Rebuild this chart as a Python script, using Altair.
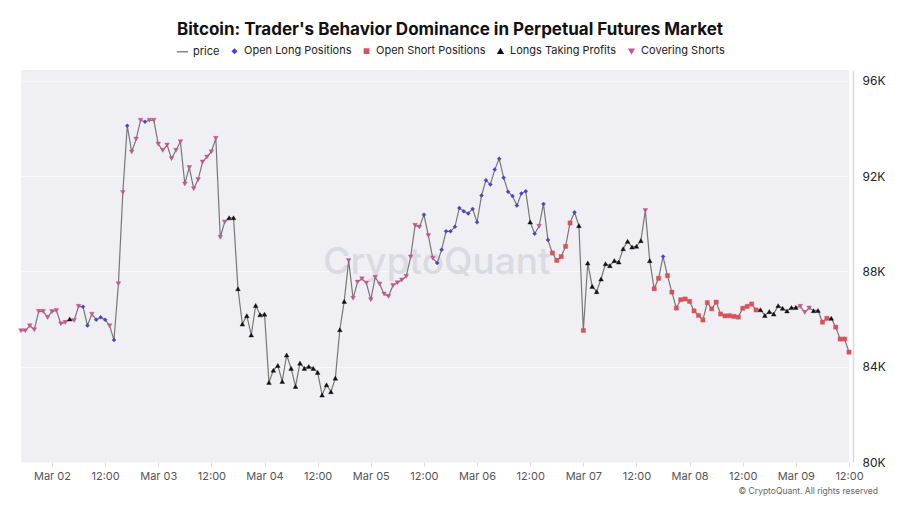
import altair as alt
import pandas as pd

# hourly closes, Mar 01 17:00 UTC -> Mar 09 12:00 UTC
prices_a = [85510, 85510, 85720, 85550, 86320, 86320, 86070, 86310, 86360, 85800,
            85860, 86000, 85940, 86530, 86520, 85730, 86200, 85970, 86070, 85970,
            85720, 85120, 87480, 91310, 94110, 93010, 93550, 94340, 94280, 94340,
            94340, 93340, 93080]
behav_a = list("VVVVVVVVVVVKVVBBVBBBVBVVBVVVBVVVV")

prices_b = [93300, 92730, 93080, 93440, 91670, 92360, 91470, 91850, 92590, 92800,
            93020, 93580, 89430, 90070, 90250, 90250, 87270, 85790, 86140, 85330,
            86570, 86180, 86200, 83340, 83850, 84050, 83380, 84490, 83930, 83170,
            84150, 83930, 84010]
behav_b = list("VVVVVVVVVVVVVV" + "KKKKKKKKKKKKKKKKKKK")

prices_c = [83930, 83760, 82810, 83240, 82950, 83520, 85550, 86740, 88450, 86870,
            87550, 87690, 87510, 86810, 87750, 87470, 87050, 86950, 87410, 87520,
            87640, 87790, 88600, 89930, 89860, 90380, 89500, 88550, 88350, 88910,
            89680, 89680]
behav_c = list("KKKKKKKK" + "VVVVVVVVVVVVVVVVV" + "BVVBBBB")

prices_d = [89870, 90660, 90520, 90430, 90620, 90060, 91180, 91820, 91650, 92270,
            92730, 91930, 91340, 91160, 90760, 91270, 91360, 90070, 89580, 89890,
            90830, 89320, 88770, 88460, 88620, 89050, 90030, 90480, 89920, 85520,
            88350]
behav_d = list("BBBBBBBBBBBBBBBBB" + "KBVBB" + "RRRRR" + "BKRK")

prices_e = [87370, 87150, 87680, 88320, 88240, 88450, 88390, 88950, 89260, 89020,
            89050, 89290, 90550, 88450, 87270, 87710, 88620, 87820, 87130, 86460,
            86810, 86840, 86740, 86340, 86150, 85960, 86690, 86430, 86710, 86210,
            86130, 86140]
behav_e = list("KKKKKKKKKKKK" + "VKRRB" + "RRRRRRRRRRRRRRR")

prices_f = [86110, 86080, 86450, 86530, 86630, 86380, 86390, 86150, 86310, 86210,
            86560, 86450, 86340, 86480, 86490, 86530, 86280, 86460, 86350, 86360,
            85870, 86030, 86030, 85660, 85160, 85160, 84610]
behav_f = list("RRRRRR" + "KKKKKKKKK" + "VVV" + "KK" + "RRK" + "RRRR")

series_names = ["price", "Open Long Positions", "Open Short Positions",
                "Longs Taking Profits", "Covering Shorts"]
code_names = {"B": "Open Long Positions", "R": "Open Short Positions",
              "K": "Longs Taking Profits", "V": "Covering Shorts"}
series_colors = ["#858585", "#4a3fcf", "#d9525b", "#111111", "#c6568b"]
series_shapes = ["stroke", "diamond", "square", "triangle-up", "triangle-down"]
series_sizes = [130, 16, 18, 22, 22]

y_ticks = [80000, 84000, 88000, 92000, 96000]

prices = prices_a + prices_b + prices_c + prices_d + prices_e + prices_f
codes = behav_a + behav_b + behav_c + behav_d + behav_e + behav_f

times = pd.date_range("2025-03-01 17:00", periods=len(prices), freq="h", tz="UTC")
df = pd.DataFrame({
    "t": times.strftime("%Y-%m-%dT%H:%M:%SZ"),
    "price": prices,
    "behavior": [code_names[c] for c in codes],
})

def ms(ts):
    return int(pd.Timestamp(ts, tz="UTC").value // 10**6)

x_domain = [ms("2025-03-01 17:00"), ms("2025-03-09 12:00")]
x_ticks = [int(v.value // 10**6) for v in
           pd.date_range("2025-03-02 00:00", "2025-03-09 12:00", freq="12h", tz="UTC")]

FONT = "Inter"

x_enc = alt.X(
    "t:T",
    scale=alt.Scale(type="utc", domain=x_domain, nice=False),
    axis=alt.Axis(
        values=x_ticks,
        labelExpr="utchours(datum.value) == 0 ? utcFormat(datum.value, '%b %d') : utcFormat(datum.value, '%H:%M')",
        title=None, grid=False, domain=False, ticks=True, tickSize=4,
        tickColor="#dcdce0", labelPadding=4, labelFontSize=11,
        labelColor="#555555", labelFont=FONT, labelFlush=False,
    ),
)
y_enc = alt.Y(
    "price:Q",
    scale=alt.Scale(domain=[80000, 96450], nice=False, zero=False),
    axis=alt.Axis(
        orient="right", values=y_ticks, title=None,
        labelExpr="(datum.value / 1000) + 'K'",
        grid=True, gridColor="#f8f8fa", gridWidth=1,
        domain=True, domainColor="#d9d9dc", domainWidth=1.5, offset=4,
        ticks=False, labelPadding=9, labelFontSize=12, labelColor="#222222",
        labelFont=FONT,
    ),
)

legend = alt.Legend(
    title=None, orient="none", direction="horizontal", legendX=155, legendY=-25,
    labelFontSize=11, labelFont=FONT, labelColor="#222222",
    symbolStrokeWidth=1.5, columnPadding=9, labelOffset=4,
)

watermark = alt.Chart(pd.DataFrame({"w": ["CryptoQuant"]})).mark_text(
    fontSize=37, font=FONT, fontWeight=500, color="#dadae1"
).encode(text="w:N", x=alt.value(416), y=alt.value(193))

line = alt.Chart(df).mark_line(color="#777777", strokeWidth=1.2).encode(x=x_enc, y=y_enc)

points = alt.Chart(df).mark_point(filled=True, opacity=1, strokeWidth=0.4).encode(
    x=x_enc,
    y=y_enc,
    color=alt.Color("behavior:N", scale=alt.Scale(domain=series_names, range=series_colors), legend=legend),
    stroke=alt.Stroke("behavior:N", scale=alt.Scale(domain=series_names, range=series_colors), legend=legend),
    shape=alt.Shape("behavior:N", scale=alt.Scale(domain=series_names, range=series_shapes), legend=legend),
    size=alt.Size("behavior:N", scale=alt.Scale(type="ordinal", domain=series_names, range=series_sizes), legend=legend),
)

copyright_txt = alt.Chart(pd.DataFrame({"c": ["© CryptoQuant. All rights reserved"]})).mark_text(
    fontSize=8.5, font=FONT, color="#666666", align="right"
).encode(text="c:N", x=alt.value(857), y=alt.value(421))

chart = alt.layer(watermark, line, points, copyright_txt).properties(
    width=828, height=392,
    padding={"left": 21, "top": 70, "right": 51, "bottom": 44},
    autosize=alt.AutoSizeParams(type="none"),
    title=alt.Title(
        "Bitcoin: Trader's Behavior Dominance in Perpetual Futures Market",
        fontSize=17, fontWeight="bold", font=FONT, color="#111111",
        anchor="middle", frame="group", dx=15, offset=6,
    ),
).configure_view(fill="#f0f0f4", strokeWidth=0)

chart.save("out.html", embed_options={"renderer": "svg", "actions": False})
